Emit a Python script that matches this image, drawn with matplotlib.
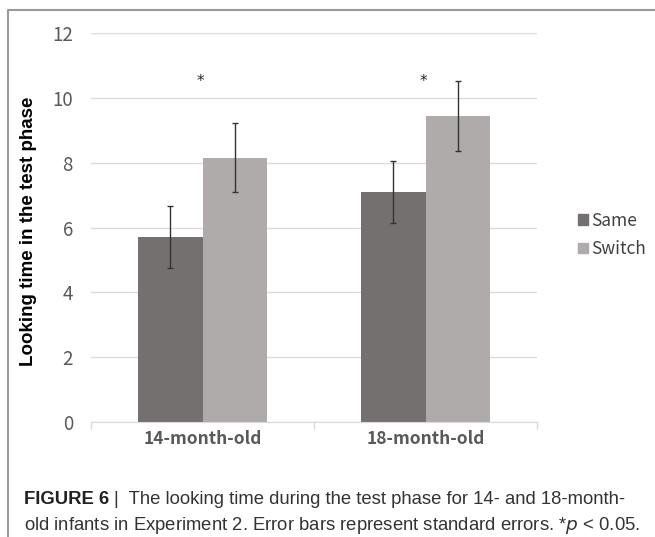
import numpy as np
import matplotlib.pyplot as plt
from matplotlib.lines import Line2D
from matplotlib.patches import Patch

# data
groups = ['14-month-old', '18-month-old']
same_mean = [5.71, 7.10]
same_se = [0.95, 0.95]
switch_mean = [8.15, 9.44]
switch_se = [1.07, 1.07]
star_y = [10.5, 10.5]
yticks = [0, 2, 4, 6, 8, 10, 12]

c_same = '#757070'
c_switch = '#afabab'
tick_grey = '#595959'

fig = plt.figure(figsize=(6.55, 5.37), dpi=100)
ax = fig.add_axes([91 / 655, 1 - 422 / 537, 446 / 655, 389 / 537])

x = np.arange(len(groups))
w = 0.287
ax.bar(x - w / 2, same_mean, w, color=c_same, zorder=2)
ax.bar(x + w / 2, switch_mean, w, color=c_switch, zorder=2)
ax.errorbar(x - w / 2, same_mean, yerr=same_se, fmt='none', ecolor='#333333',
            elinewidth=1, capsize=2, capthick=1, zorder=3)
ax.errorbar(x + w / 2, switch_mean, yerr=switch_se, fmt='none', ecolor='#333333',
            elinewidth=1, capsize=2, capthick=1, zorder=3)
for xi, yi in zip(x, star_y):
    ax.text(xi - 0.01, yi, '*', ha='center', va='center', fontsize=11, color='#222222',
            family='DejaVu Sans')

ax.set_xlim(-0.5, 1.5)
ax.set_ylim(0, 12)
ax.set_yticks(yticks)
ax.set_yticklabels([str(v) for v in yticks], fontsize=13.5, color=tick_grey,
                   family='Noto Sans CJK SC')
ax.yaxis.grid(True, color='#dcdcdc', linewidth=1, zorder=0)
ax.tick_params(axis='y', length=0, pad=13)

ax.set_xticks(x)
ax.set_xticklabels(groups, fontsize=12.5, color=tick_grey, family='Noto Sans CJK SC',
                   fontweight='bold')
ax.set_xticks([-0.5, 0.5, 1.5], minor=True)
ax.tick_params(axis='x', which='major', length=0, pad=6)
ax.tick_params(axis='x', which='minor', length=5, color='#d9d9d9', width=1)

for s in ['top', 'right', 'left']:
    ax.spines[s].set_visible(False)
ax.spines['bottom'].set_color('#d9d9d9')

ax.set_ylabel('Looking time in the test phase', fontsize=13.5, fontweight='bold',
              family='Liberation Sans', color='black')
ax.yaxis.set_label_coords((37 - 91) / 446, 0.49)

handles = [Patch(color=c_same), Patch(color=c_switch)]
leg = ax.legend(handles, ['Same', 'Switch'], loc='center left',
                bbox_to_anchor=((578 - 91) / 446, (422 - 235) / 389), frameon=False,
                borderpad=0, borderaxespad=0, handlelength=0.55, handleheight=0.55,
                handletextpad=0.2, labelspacing=0.62,
                prop={'family': 'Noto Sans CJK SC', 'size': 12.5})
for t in leg.get_texts():
    t.set_color('#404040')

# figure frame (left and top edges)
fig.add_artist(Line2D([8 / 655, 8 / 655, 1], [0, 1 - 10 / 537, 1 - 10 / 537],
                      color='#9a9a9a', linewidth=1.5, transform=fig.transFigure))

# caption
cap_font = 'Liberation Sans'
cap_size = 13.3
y1 = 1 - 504 / 537
y2 = 1 - 530 / 537
t1 = fig.text(24 / 655, y1, 'FIGURE 6', fontsize=cap_size, fontweight='bold',
              family=cap_font, color='#222222')
fig.canvas.draw()
bb = t1.get_window_extent()
fig.text((bb.x1 + 5) / 655, y1,
         '|  The looking time during the test phase for 14- and 18-month-',
         fontsize=cap_size, family=cap_font, color='#333333')
fig.text(24 / 655, y2,
         'old infants in Experiment 2. Error bars represent standard errors. *$p$ < 0.05.',
         fontsize=cap_size, family=cap_font, color='#333333')

fig.savefig('out.png', dpi=100)
